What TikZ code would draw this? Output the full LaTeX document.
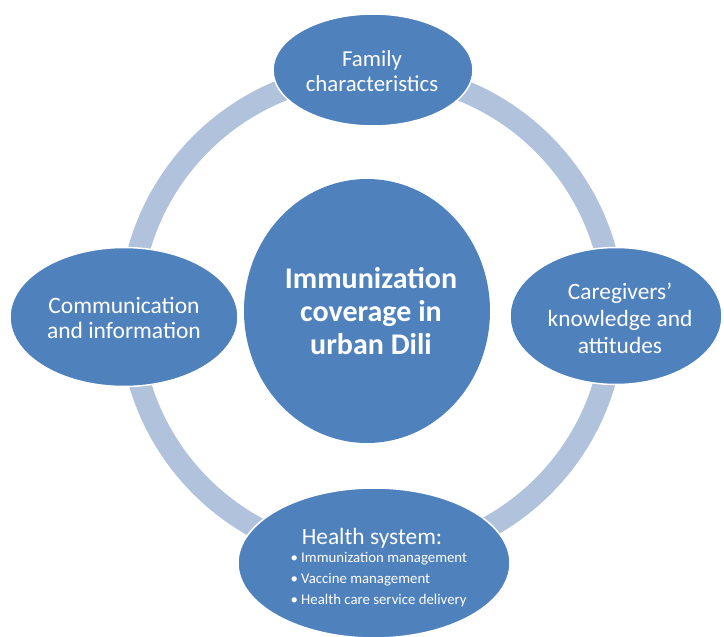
\documentclass[tikz,border=0pt]{standalone}
\usepackage{fontspec}
\setmainfont{Carlito}
\usetikzlibrary{shapes.geometric}
\definecolor{nodeblue}{HTML}{4F81BD}
\definecolor{ringblue}{HTML}{B0C2DC}
\begin{document}
\begin{tikzpicture}[x=1pt,y=-1pt,
  blob/.style={ellipse, fill=nodeblue, draw=white, line width=1.5pt, inner sep=0pt},
  lbl/.style={text=white, align=center, font=\fontsize{22.8}{25}\selectfont},
  ringstyle/.style={circle, draw=ringblue, line width=22pt, inner sep=0pt, minimum size=484pt}]
\useasboundingbox (0,0) rectangle (724,637);
\clip (0,0) rectangle (724,637);
\node[ringstyle] (ring) at (372,315) {};
\node[blob, draw=none, minimum width=246pt, minimum height=264pt] (center) at (367,311) {};
\node[lbl, font=\fontsize{30}{33}\selectfont\bfseries] (centertext) at (371,311) {Immunization\\coverage in\\urban Dili};
\node[blob, minimum width=200pt, minimum height=112pt] (top) at (373,70) {};
\node[lbl] (toptext) at (372,71) {Family\\characteristics};
\node[blob, minimum width=212pt, minimum height=137pt] (right) at (616,316) {};
\node[lbl, font=\fontsize{23.4}{27}\selectfont] (righttext) at (620,318) {Caregivers’\\knowledge and\\attitudes};
\node[blob, minimum width=228pt, minimum height=139pt] (left) at (124,317) {};
\node[lbl, font=\fontsize{23.5}{25}\selectfont] (lefttext) at (124,318) {Communication\\and information};
\node[blob, minimum width=272pt, minimum height=150pt] (bottom) at (374,563) {};
\node[lbl, font=\fontsize{23.4}{25}\selectfont] (bottomhead) at (372,538) {Health system:};
\node[text=white, align=left, anchor=west, font=\fontsize{14.8}{21}\selectfont] (bottomlist) at (287,580) {• Immunization management\\• Vaccine management\\• Health care service delivery};
\end{tikzpicture}
\end{document}
